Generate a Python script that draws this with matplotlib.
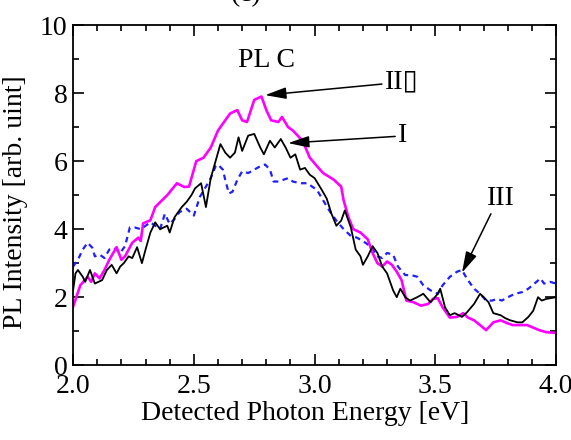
import matplotlib
matplotlib.use("Agg")
import matplotlib.pyplot as plt

plt.rcParams['font.family'] = ['Liberation Serif', 'DejaVu Sans']

# curve II (magenta)
e_2 = [2.00, 2.03, 2.06, 2.075, 2.09, 2.11, 2.13, 2.15, 2.18, 2.20, 2.215, 2.245, 2.27, 2.28,
       2.29, 2.32, 2.34, 2.39, 2.43, 2.46, 2.48, 2.49, 2.51, 2.54, 2.57, 2.60, 2.62, 2.65,
       2.68, 2.70, 2.72, 2.75, 2.78, 2.80, 2.82, 2.85, 2.865, 2.89, 2.91, 2.95, 2.98, 3.01,
       3.035, 3.08, 3.11, 3.12, 3.14, 3.16, 3.19, 3.22, 3.24, 3.26, 3.28, 3.30, 3.32, 3.34,
       3.36, 3.38, 3.41, 3.44, 3.47, 3.49, 3.51, 3.53, 3.56, 3.59, 3.615, 3.635, 3.66, 3.685,
       3.71, 3.74, 3.77, 3.80, 3.82, 3.85, 3.88, 3.90, 3.93, 3.96, 4.00]
i_2 = [1.72, 2.35, 2.6, 2.45, 2.7, 2.55, 2.8, 3.1, 3.47, 3.1, 3.2, 3.6, 3.75, 3.65,
       4.17, 4.26, 4.65, 5.0, 5.35, 5.24, 5.25, 5.5, 6.0, 6.1, 6.4, 6.9, 7.1, 7.4,
       7.5, 7.2, 7.15, 7.8, 7.9, 7.5, 7.2, 7.15, 7.3, 7.0, 6.9, 6.6, 6.1, 5.85,
       5.65, 5.45, 5.25, 4.85, 4.35, 4.0, 3.9, 3.7, 3.3, 3.0, 2.9, 3.05, 2.95, 2.75,
       2.5, 1.9, 1.85, 1.75, 1.8, 1.95, 1.97, 1.7, 1.4, 1.42, 1.53, 1.4, 1.32, 1.18,
       1.03, 1.26, 1.32, 1.23, 1.18, 1.18, 1.18, 1.12, 1.03, 0.97, 0.95]

# curve I (black)
e_1 = [2.00, 2.01, 2.02, 2.04, 2.05, 2.07, 2.09, 2.12, 2.14, 2.16, 2.18, 2.195, 2.21, 2.23,
       2.245, 2.265, 2.285, 2.30, 2.32, 2.34, 2.36, 2.39, 2.40, 2.42, 2.45, 2.47, 2.49, 2.505,
       2.53, 2.55, 2.57, 2.59, 2.61, 2.63, 2.65, 2.67, 2.685, 2.70, 2.725, 2.75, 2.775, 2.79,
       2.815, 2.835, 2.86, 2.88, 2.90, 2.92, 2.94, 2.96, 2.98, 3.00, 3.03, 3.05, 3.07, 3.09,
       3.11, 3.125, 3.15, 3.17, 3.19, 3.20, 3.22, 3.24, 3.26, 3.28, 3.30, 3.325, 3.34, 3.355,
       3.375, 3.395, 3.425, 3.45, 3.48, 3.51, 3.52, 3.54, 3.56, 3.58, 3.61, 3.63, 3.66, 3.685,
       3.70, 3.72, 3.74, 3.77, 3.79, 3.81, 3.84, 3.86, 3.885, 3.905, 3.925, 3.94, 3.96, 4.00]
i_1 = [2.2, 2.7, 2.8, 2.6, 2.45, 2.8, 2.4, 2.5, 2.8, 2.95, 2.7, 2.9, 3.0, 3.2,
       3.15, 3.47, 3.0, 3.4, 3.9, 4.2, 4.0, 4.1, 3.9, 4.35, 4.65, 4.8, 5.0, 5.2,
       5.35, 4.65, 5.5, 6.0, 6.5, 6.25, 6.1, 6.25, 6.7, 6.3, 6.75, 6.8, 6.4, 6.2,
       6.6, 6.4, 6.65, 6.4, 6.1, 6.2, 5.75, 5.8, 5.6, 5.5, 5.15, 4.9, 4.45, 4.1,
       4.25, 4.55, 4.05, 3.4, 3.2, 2.95, 3.2, 3.5, 3.3, 2.9, 2.7, 2.2, 2.0, 2.25,
       2.0, 1.9, 2.0, 2.1, 1.85, 2.1, 2.25, 1.7, 1.47, 1.53, 1.42, 1.55, 1.8, 2.1,
       2.0, 1.85, 1.53, 1.47, 1.38, 1.32, 1.26, 1.26, 1.42, 1.6, 2.0, 1.9, 1.95, 2.0]

# curve III (blue dashed)
e_3 = [2.00, 2.02, 2.04, 2.06, 2.08, 2.09, 2.11, 2.13, 2.15, 2.17, 2.195, 2.215, 2.235, 2.255,
       2.28, 2.30, 2.32, 2.34, 2.36, 2.38, 2.40, 2.42, 2.44, 2.47, 2.50, 2.525, 2.55, 2.57,
       2.59, 2.60, 2.62, 2.63, 2.645, 2.66, 2.68, 2.70, 2.725, 2.75, 2.775, 2.795, 2.815, 2.83,
       2.85, 2.87, 2.89, 2.91, 2.94, 2.97, 2.99, 3.01, 3.035, 3.065, 3.09, 3.12, 3.15, 3.175,
       3.20, 3.23, 3.26, 3.28, 3.30, 3.325, 3.345, 3.375, 3.40, 3.425, 3.45, 3.48, 3.51, 3.53,
       3.56, 3.59, 3.61, 3.63, 3.66, 3.685, 3.71, 3.735, 3.755, 3.775, 3.80, 3.83, 3.86, 3.885,
       3.91, 3.935, 3.95, 3.975, 4.00]
i_3 = [2.9, 3.1, 3.4, 3.6, 3.45, 3.2, 3.25, 3.15, 3.4, 3.45, 3.3, 3.5, 4.05, 4.05,
       4.0, 4.1, 4.2, 4.1, 4.0, 4.45, 4.15, 4.3, 4.5, 4.6, 4.4, 4.95, 5.25, 5.5,
       5.85, 5.9, 5.75, 5.45, 5.05, 5.1, 5.45, 5.7, 5.65, 5.75, 5.85, 5.9, 5.75, 5.4,
       5.4, 5.45, 5.5, 5.4, 5.35, 5.35, 5.25, 5.15, 4.85, 4.5, 4.25, 4.0, 3.8, 3.75,
       3.65, 3.5, 3.2, 3.15, 3.3, 3.25, 2.9, 2.65, 2.65, 2.6, 2.35, 2.2, 2.1, 2.35,
       2.6, 2.75, 2.8, 2.55, 2.25, 2.1, 1.9, 1.9, 1.95, 1.9, 2.0, 2.1, 2.15, 2.25,
       2.4, 2.55, 2.4, 2.45, 2.4]

fig = plt.figure(figsize=(5.71, 4.4), dpi=100)
ax = fig.add_axes([0.128, 0.170, 0.846, 0.773])

ax.plot(e_3, i_3, color='#1f1fff', lw=1.6, dashes=(2.5, 2.0))
ax.plot(e_2, i_2, color='#ff00ff', lw=1.9)
ax.plot(e_1, i_1, color='black', lw=1.3)

ax.set_xlim(2.0, 4.0)
ax.set_ylim(0, 10)
ax.set_xticks([2.0, 2.5, 3.0, 3.5, 4.0])
ax.set_xticklabels(['2.0', '2.5', '3.0', '3.5', '4.0'])
ax.set_xticks([2 + 0.1 * k for k in range(21)], minor=True)
ax.set_yticks([0, 2, 4, 6, 8, 10])
ax.set_yticks(range(11), minor=True)
ax.tick_params(which='both', direction='in', top=True, right=True, labelsize=20, width=1.2)
ax.tick_params(which='major', length=8)
ax.tick_params(which='minor', length=4)
ax.tick_params(axis='x', pad=6)
ax.tick_params(axis='y', pad=4)
for s in ax.spines.values():
    s.set_linewidth(1.3)

ax.set_xlabel('Detected Photon Energy [eV]', fontsize=20, labelpad=2)
ax.xaxis.set_label_coords(0.48, -0.105)
ax.set_ylabel('PL Intensity [arb. uint]', fontsize=20)
ax.yaxis.set_label_coords(-0.094, 0.48)

ax.text(2.80, 8.97, 'PL C', fontsize=20, ha='center', va='center')

arr = dict(arrowstyle='-|>,head_length=0.8,head_width=0.22', color='black', lw=1.1,
           mutation_scale=16, shrinkA=0, shrinkB=0)
ax.annotate('II\u25AF', xy=(2.795, 7.94), xytext=(3.29, 8.32), fontsize=20,
            va='center', ha='left', arrowprops=arr)
ax.annotate('I', xy=(2.89, 6.53), xytext=(3.345, 6.74), fontsize=20,
            va='center', ha='left', arrowprops=arr)
ax.annotate('III', xy=(3.61, 2.72), xytext=(3.77, 4.9), fontsize=20,
            va='center', ha='center', arrowprops=dict(arr, relpos=(0.2, 0.0)))

fig.text(246 / 571, 1 - 1 / 440, '(c)', fontsize=20, ha='center', va='baseline')

fig.savefig('out.png', dpi=100)
